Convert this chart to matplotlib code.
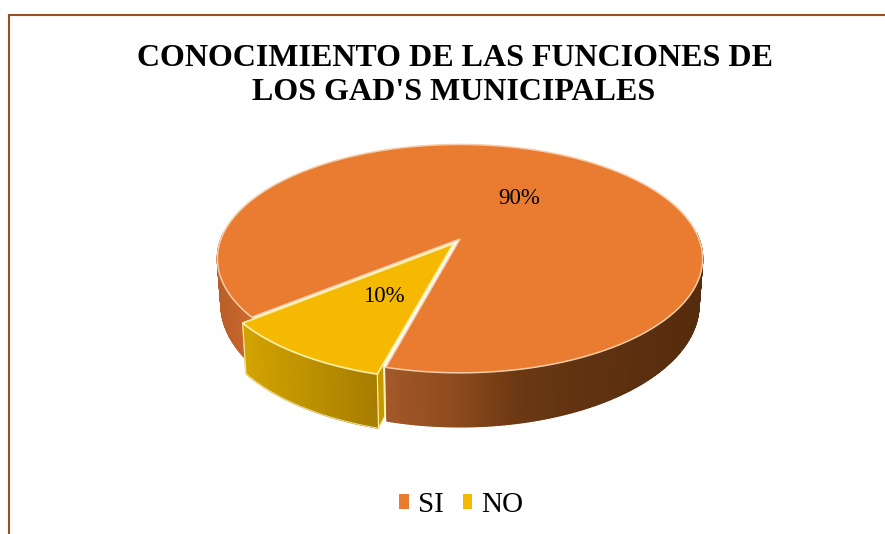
import matplotlib
matplotlib.use("Agg")
import matplotlib.pyplot as plt
import numpy as np
from matplotlib.colors import LinearSegmentedColormap
from matplotlib.patches import Patch

title_lines = ["CONOCIMIENTO DE LAS FUNCIONES DE", "LOS GAD'S MUNICIPALES"]
categories = ["SI", "NO"]
values = [90, 10]
value_labels = ["90%", "10%"]
explode = [0.0, 0.05]

top_colors = ["#E97C31", "#F4B900"]
rim_colors = ["#F7CDAA", "#F9EDA0"]
frame_color = "#99501F"

# pie projection, in figure pixels
first_angle = 231
cx, cy = 460, 239
scale_x, scale_y = 239, 110.8
persp = 0.172
depth = 44.7

wall_si = LinearSegmentedColormap.from_list(
    "wall_si",
    [(0, "#B85F28"), (0.06, "#CC682C"), (0.2, "#B5602A"), (0.34, "#A4592A"),
     (0.5, "#8C4A1C"), (0.62, "#6B3813"), (0.8, "#5F3110"), (1, "#552C0D")],
)
wall_no = LinearSegmentedColormap.from_list("wall_no", ["#D2A300", "#A67C00"])

plt.rcParams["font.family"] = ["Liberation Serif", "DejaVu Serif"]


def project(u, v, lift=0.0):
    w = 1 + persp * v
    shrink = 1 - 0.015 * (lift > 0)
    return cx + scale_x * shrink * u / w, cy - scale_y * v / w + lift / w


def arc(a0, a1, n=120):
    t = np.radians(np.linspace(a0, a1, n))
    return np.cos(t), np.sin(t)


def draw_wall(a0, a1, offset, cmap, local=False):
    edges = np.linspace(a0, a1, int(abs(a1 - a0)) * 2 + 2)
    xs_all = project(*arc(a0, a1))[0] + offset[0] * scale_x
    for e0, e1 in zip(edges[:-1], edges[1:]):
        if np.sin(np.radians((e0 + e1) / 2)) > 0.06:
            continue
        u, v = arc(e0, e1, 6)
        u, v = u + offset[0], v + offset[1]
        x1, y1 = project(u, v)
        x2, y2 = project(u, v, depth)
        if local:
            pos = (x1.mean() - xs_all.min()) / (xs_all.max() - xs_all.min())
        else:
            pos = (x1.mean() - 218) / (704 - 218)
        ax.fill(np.r_[x1, x2[::-1]], np.r_[y1, y2[::-1]], color=cmap(pos), lw=1.0, zorder=2)


fig = plt.figure(figsize=(8.85, 5.34), dpi=100)
ax = fig.add_axes([0, 0, 1, 1])
ax.set_xlim(0, 885)
ax.set_ylim(534, 0)
ax.axis("off")

# chart frame, cut by the right and bottom edges of the picture
ax.plot([9, 9, 885], [534, 15, 15], color=frame_color, lw=1.5, solid_joinstyle="miter")

# slice angles, clockwise from 12 o'clock
ends = np.cumsum(values) / np.sum(values) * 360
starts = np.r_[0, ends[:-1]]
a_start = 90 - (first_angle + starts)
a_end = 90 - (first_angle + ends)
a_mid = np.radians((a_start + a_end) / 2)
offsets = [(e * np.cos(m), e * np.sin(m)) for e, m in zip(explode, a_mid)]

# orange slice: wall then top
draw_wall(a_end[0] + 360, a_start[0] + 360, offsets[0], wall_si)
u, v = arc(a_start[0], a_end[0], 300)
x, y = project(np.r_[0, u, 0], np.r_[0, v, 0])
ax.fill(x, y, facecolor=top_colors[0], edgecolor=rim_colors[0], lw=1.1, zorder=3)

# yellow slice: wall, cut face on its right side, top
ox, oy = offsets[1]
draw_wall(a_end[1] + 720, a_start[1] + 720, offsets[1], wall_no, local=True)
cu, cv = np.cos(np.radians(a_start[1])), np.sin(np.radians(a_start[1]))
face_u = np.array([cu + ox, 0.93 * cu + ox])
face_v = np.array([cv + oy, 0.93 * cv + oy])
fx1, fy1 = project(face_u, face_v)
fx2, fy2 = project(face_u, face_v, depth)
ax.fill(np.r_[fx1, fx2[::-1]], np.r_[fy1, fy2[::-1]], facecolor="#C49A00",
        edgecolor=rim_colors[1], lw=0.9, zorder=4)
wu, wv = arc(a_start[1], a_end[1])
wx, wy = project(wu + ox, wv + oy, depth)
ax.plot(wx, wy, color="#F3E2A8", lw=0.7, zorder=4)
lx, ly = project(np.array([wu[-1] + ox]), np.array([wv[-1] + oy]))
lx2, ly2 = project(np.array([wu[-1] + ox]), np.array([wv[-1] + oy]), depth)
ax.plot([lx[0], lx2[0]], [ly[0], ly2[0]], color="#F3E2A8", lw=0.9, zorder=4)
x, y = project(np.r_[ox, wu + ox, ox], np.r_[oy, wv + oy, oy])
ax.fill(x, y, facecolor=top_colors[1], edgecolor=rim_colors[1], lw=1.3, zorder=5)

# texts
ax.text(455, 66, title_lines[0], ha="center", va="baseline", fontsize=23.05, fontweight="bold", zorder=6)
ax.text(454, 100.5, title_lines[1], ha="center", va="baseline", fontsize=23.05, fontweight="bold", zorder=6)
ax.text(519, 199, value_labels[0], ha="center", va="center", fontsize=16.5, zorder=6)
ax.text(384, 296, value_labels[1], ha="center", va="center", fontsize=16.5, zorder=6)

handles = [Patch(facecolor=c, edgecolor="none") for c in top_colors]
ax.legend(
    handles, categories, ncol=2, loc="center", bbox_to_anchor=(461.5 / 885, 1 - 505 / 534),
    frameon=False, fontsize=21, handlelength=0.32, handleheight=0.37,
    handletextpad=0.32, columnspacing=0.65, borderpad=0,
)

fig.savefig("out.png", dpi=100)
